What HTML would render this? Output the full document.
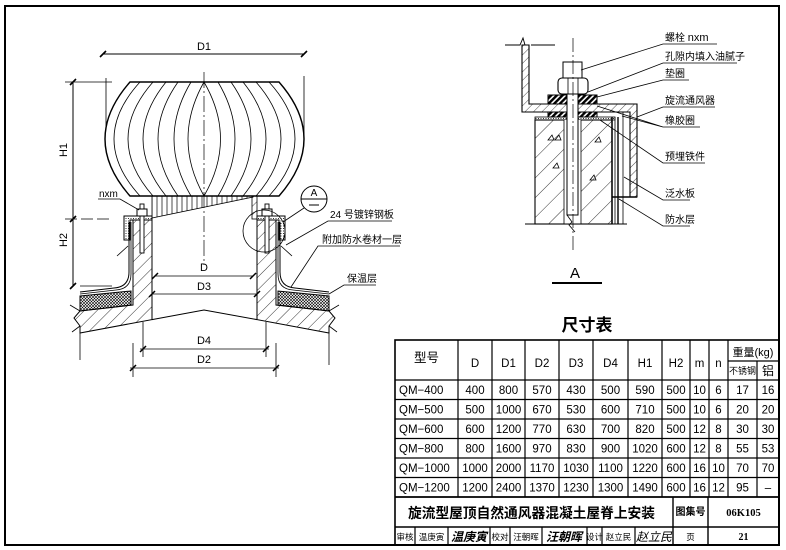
<!DOCTYPE html>
<html><head><meta charset="utf-8">
<style>
html,body{margin:0;padding:0;background:#fff;}
svg{display:block;}
text{font-family:"Liberation Sans","Noto Sans CJK SC",sans-serif;fill:#000;}
.c{text-anchor:middle;}
.b{font-weight:bold;}
</style></head><body>
<svg width="786" height="550" viewBox="0 0 786 550" xmlns="http://www.w3.org/2000/svg">
<defs>
 <pattern id="h45" width="9" height="9" patternUnits="userSpaceOnUse" patternTransform="rotate(45)"><line x1="0" y1="0" x2="0" y2="9" stroke="#000" stroke-width="0.8"/></pattern>
 <pattern id="h45s" width="6" height="6" patternUnits="userSpaceOnUse" patternTransform="rotate(45)"><line x1="0" y1="0" x2="0" y2="6" stroke="#000" stroke-width="0.7"/></pattern>
 <pattern id="h45b" width="14" height="14" patternUnits="userSpaceOnUse" patternTransform="rotate(45)"><line x1="0" y1="0" x2="0" y2="14" stroke="#000" stroke-width="0.8"/></pattern>
 <pattern id="xh" width="3" height="3" patternUnits="userSpaceOnUse"><path d="M0 0L3 3M3 0L0 3" stroke="#000" stroke-width="0.6"/></pattern>
 <pattern id="dots" width="2.5" height="2.5" patternUnits="userSpaceOnUse"><circle cx="1" cy="1" r="0.55" fill="#000"/></pattern>
 <pattern id="vl" width="5" height="10" patternUnits="userSpaceOnUse"><line x1="2" y1="0" x2="2" y2="10" stroke="#000" stroke-width="0.7"/></pattern>
 <pattern id="dk" width="4" height="4" patternUnits="userSpaceOnUse" patternTransform="rotate(45)"><rect width="2.4" height="4" fill="#000"/></pattern>
</defs>

<!-- frame -->
<rect x="5" y="6" width="774" height="539" fill="none" stroke="#000" stroke-width="2"/>

<!-- ================= LEFT DRAWING ================= -->
<g stroke="#000" fill="none" stroke-width="1">
 <!-- D1 -->
 <line x1="103" y1="54" x2="304" y2="54"/>
 <path d="M100,57 L106,51 M301,57 L307,51" stroke-width="1.6"/>
 <line x1="106" y1="78" x2="106" y2="138" stroke-width="0.8"/>
 <line x1="304" y1="76" x2="304" y2="138" stroke-width="0.8"/>
 <!-- H1 / H2 -->
 <line x1="65" y1="82" x2="112" y2="82" stroke-width="0.8"/>
 <line x1="65" y1="219" x2="112" y2="219" stroke-dasharray="12 4" stroke-width="0.8"/>
 <line x1="73" y1="82" x2="73" y2="286"/>
 <path d="M70,85 L76,79 M70,222 L76,216 M70,289 L76,283" stroke-width="1.6"/>

 <!-- dome -->
 <path d="M130,82 L279,82 Q329,139 279,196 L130,196 Q80,139 130,82 Z" stroke-width="1.4" fill="#fff"/>
 <g stroke-width="0.8">
  <path d="M140,82 Q88,139 140,196"/>
  <path d="M153,82 Q103,139 153,196"/>
  <path d="M166,82 Q120,139 166,196"/>
  <path d="M178,82 Q138,139 178,196"/>
  <path d="M191,82 Q157,139 191,196"/>
  <path d="M204,82 Q172,139 204,196"/>
  <path d="M204,82 Q237,139 204,196"/>
  <path d="M218,82 Q252,139 218,196"/>
  <path d="M231,82 Q271,139 231,196"/>
  <path d="M243,82 Q289,139 243,196"/>
  <path d="M256,82 Q306,139 256,196"/>
  <path d="M269,82 Q321,139 269,196"/>
 </g>

 <!-- throat -->
 <path d="M152,196 L253,196 L253,197 L152,218 Z" fill="url(#vl)" stroke-width="0.8"/>
 <rect x="252" y="196" width="5" height="23" fill="url(#h45s)" stroke-width="0.8"/>

 <!-- left concrete -->
 <path d="M133,220 L152,220 L152,319.6 L80,333 L80,326 L74,318 L80,311 L133,305 Z" fill="url(#h45)" stroke-width="1"/>
 <!-- right concrete -->
 <path d="M276,220 L257,220 L257,319.6 L329,333 L329,326 L335,318 L329,311 L276,305 Z" fill="url(#h45)" stroke-width="1"/>
 <!-- break lines -->
 <path d="M70,305 L80,311 M72,332 L80,326" stroke-width="0.8"/>
 <path d="M339,305 L329,311 M337,332 L329,326" stroke-width="0.8"/>
 <!-- ridge underside -->
 <path d="M152,319.6 L204,310 L257,319.6" stroke-width="1"/>

 <!-- insulation -->
 <path d="M80,296 L131,291 L131,305 L80,311 Z" fill="url(#xh)" stroke-width="1"/>
 <path d="M329,296 L278,291 L278,305 L329,311 Z" fill="url(#xh)" stroke-width="1"/>
 <!-- membranes -->
 <path d="M80,292 L114,288 Q129,287 129,272 L129,222" stroke-width="1"/>
 <path d="M80,294 L116,290 Q131,289 131,274 L131,222" stroke-width="0.8"/>
 <path d="M80,286 L112,286" stroke-width="0.8"/>
 <path d="M329,292 L295,288 Q280,287 280,272 L280,222" stroke-width="1"/>
 <path d="M329,294 L293,290 Q278,289 278,274 L278,222" stroke-width="0.8"/>

 <!-- caps -->
 <path d="M124,216 L152,216 L152,220 L130,220 L130,240 L124,240 Z" fill="url(#dots)" stroke-width="1"/>
 <path d="M285,216 L257,216 L257,220 L279,220 L279,240 L285,240 Z" fill="url(#dots)" stroke-width="1"/>
 <path d="M117,256 L128,246" stroke-width="0.8"/>
 <path d="M292,256 L281,246" stroke-width="0.8"/>

 <!-- bolts -->
 <rect x="140" y="204" width="4" height="49" fill="#fff" stroke-width="0.9"/>
 <rect x="137" y="209" width="10" height="7" fill="#fff" stroke-width="1"/>
 <rect x="265" y="204" width="4" height="49" fill="#fff" stroke-width="0.9"/>
 <rect x="262" y="209" width="10" height="7" fill="#fff" stroke-width="1"/>

 <!-- centerline -->
 <line x1="204" y1="72" x2="204" y2="265" stroke-dasharray="16 3 2 3" stroke-width="0.7"/>

 <!-- D / D3 -->
 <line x1="155" y1="276" x2="253" y2="276" stroke-width="0.8"/>
 <path d="M152,279 L158,273 M250,279 L256,273" stroke-width="1.5"/>
 <line x1="152" y1="294" x2="257" y2="294" stroke-width="0.8"/>
 <path d="M149,297 L155,291 M254,297 L260,291" stroke-width="1.5"/>
 <!-- D4 / D2 -->
 <line x1="143" y1="322" x2="143" y2="357" stroke-width="0.8"/>
 <line x1="266" y1="322" x2="266" y2="357" stroke-width="0.8"/>
 <line x1="133" y1="343" x2="133" y2="377" stroke-width="0.8"/>
 <line x1="276" y1="343" x2="276" y2="377" stroke-width="0.8"/>
 <line x1="80" y1="333" x2="80" y2="360" stroke-width="0.8"/>
 <line x1="329" y1="333" x2="329" y2="365" stroke-width="0.8"/>
 <line x1="140" y1="349" x2="269" y2="349" stroke-width="0.8"/>
 <path d="M140,352 L146,346 M263,352 L269,346" stroke-width="1.5"/>
 <line x1="130" y1="368" x2="279" y2="368" stroke-width="0.8"/>
 <path d="M130,371 L136,365 M273,371 L279,365" stroke-width="1.5"/>

 <!-- detail markers -->
 <circle cx="264" cy="231" r="21" stroke-width="0.8"/>
 <circle cx="314" cy="199" r="13" stroke-width="1"/>
 <line x1="301" y1="199" x2="327" y2="199" stroke-width="1"/>
 <line x1="309" y1="205" x2="319" y2="205" stroke-width="1"/>
 <line x1="304" y1="208" x2="283" y2="222" stroke-width="0.8"/>

 <!-- leaders -->
 <path d="M98,199 L120,199 L139,210" stroke-width="0.8"/>
 <path d="M392,221 L328,221 L286,245" stroke-width="0.8"/>
 <path d="M400,246 L318,246 L291,287" stroke-width="0.8"/>
 <path d="M376,285 L344,285 L329,294" stroke-width="0.8"/>
</g>

<g font-size="11">
 <text x="204" y="50" class="c">D1</text>
 <text transform="translate(67,150) rotate(-90)" class="c">H1</text>
 <text transform="translate(67,240) rotate(-90)" class="c">H2</text>
 <text x="99" y="197" font-size="10">nxm</text>
 <text x="314" y="196" class="c" font-size="10">A</text>
 <text x="204" y="271" class="c">D</text>
 <text x="204" y="290" class="c">D3</text>
 <text x="204" y="344" class="c">D4</text>
 <text x="204" y="363" class="c">D2</text>
 <text x="330" y="218" font-size="10">24 号镀锌钢板</text>
 <text x="322" y="243" font-size="10">附加防水卷材一层</text>
 <text x="347" y="282" font-size="10">保温层</text>
</g>

<!-- ================= DETAIL A ================= -->
<g stroke="#000" fill="none" stroke-width="1">
 <path d="M505,45 L520,45 L523,38 L525,45 M531,45 L555,45" stroke-width="0.9"/>
 <path d="M522,45 L529,45 L529,104 L637,104 L637,197 L630,197 L630,112 L522,112 Z" fill="url(#h45s)" stroke-width="1.1"/>
 <rect x="535" y="120" width="77" height="104" fill="url(#h45b)" stroke-width="1.1"/>
 <rect x="535" y="117" width="80" height="3" fill="url(#dots)" stroke-width="0.8"/>
 <rect x="548" y="95" width="49" height="9" fill="url(#dk)" stroke-width="1"/>
 <rect x="548" y="112" width="49" height="5" fill="url(#dk)" stroke-width="1"/>
 <path d="M548,140 l4,-5 l2,5 z M555,140 l4,-5 l2,5 z M553,168 l4,-5 l2,5 z M595,142 l4,-5 l2,5 z M590,180 l4,-5 l2,5 z" stroke-width="0.8"/>
 <rect x="564" y="120" width="17" height="104" fill="#fff" stroke="none"/>
 <line x1="564" y1="120" x2="564" y2="224" stroke-width="0.8"/>
 <line x1="581" y1="120" x2="581" y2="224" stroke-width="0.8"/>
 <rect x="567" y="68" width="11" height="147" fill="#fff" stroke-width="1"/>
 <path d="M567,215 L572,222 L569,225 L575,232" stroke-width="0.8"/>
 <rect x="563" y="62" width="19" height="16" fill="#fff" stroke-width="1"/>
 <rect x="558" y="78" width="30" height="16" rx="4" fill="#fff" stroke-width="1.1"/>
 <line x1="568" y1="78" x2="568" y2="94" stroke-width="0.8"/>
 <line x1="578" y1="78" x2="578" y2="94" stroke-width="0.8"/>
 <line x1="573" y1="38" x2="573" y2="253" stroke-dasharray="14 3 2 3" stroke-width="0.7"/>
 <line x1="612" y1="117" x2="612" y2="224" stroke-width="1.5"/>
 <line x1="615" y1="117" x2="615" y2="224" stroke-width="0.8"/>
 <line x1="618" y1="117" x2="618" y2="224" stroke-width="1.4"/>
 <line x1="623" y1="112" x2="623" y2="224" stroke-width="0.8"/>
 <line x1="612" y1="197" x2="637" y2="197" stroke-width="1.5"/>
 <line x1="525" y1="224" x2="627" y2="224" stroke-width="1"/>
 <!-- leaders -->
 <path d="M717,44 L663,44 L581,70" stroke-width="0.8"/>
 <path d="M737,63 L663,63 L588,92" stroke-width="0.8"/>
 <path d="M689,80 L663,80 L597,97" stroke-width="0.8"/>
 <path d="M715,107 L663,107 L637,117" stroke-width="0.8"/>
 <path d="M700,127 L663,127 L597,106 M663,127 L622,116" stroke-width="0.8"/>
 <path d="M705,163 L663,163 L600,120" stroke-width="0.8"/>
 <path d="M690,200 L663,200 L624,177" stroke-width="0.8"/>
 <path d="M690,226 L663,226 L619,199" stroke-width="0.8"/>
</g>
<rect x="552" y="282" width="50" height="2" fill="#000"/>
<g font-size="10">
 <text x="665" y="41">螺栓 <tspan font-size="11">nxm</tspan></text>
 <text x="665" y="60">孔隙内填入油腻子</text>
 <text x="665" y="77">垫圈</text>
 <text x="665" y="104">旋流通风器</text>
 <text x="665" y="124">橡胶圈</text>
 <text x="665" y="160">预埋铁件</text>
 <text x="665" y="197">泛水板</text>
 <text x="665" y="223">防水层</text>
 <text x="575" y="278" class="c" font-size="15">A</text>
</g>

<!-- ================= TABLE ================= -->
<text x="587" y="331" class="c b" font-size="17">尺寸表</text>
<g stroke="#000" stroke-width="1.2" fill="none">
 <rect x="395" y="340" width="384" height="205" stroke-width="1.6"/>
 <line x1="395" y1="380" x2="779" y2="380"/>
 <line x1="728" y1="361" x2="779" y2="361"/>
 <line x1="395" y1="399.5" x2="779" y2="399.5"/>
 <line x1="395" y1="419" x2="779" y2="419"/>
 <line x1="395" y1="438.5" x2="779" y2="438.5"/>
 <line x1="395" y1="458" x2="779" y2="458"/>
 <line x1="395" y1="477.5" x2="779" y2="477.5"/>
 <line x1="395" y1="497" x2="779" y2="497" stroke-width="1.8"/>
 <line x1="395" y1="527" x2="779" y2="527" stroke-width="1.4"/>
 <line x1="458" y1="340" x2="458" y2="497"/>
 <line x1="492" y1="340" x2="492" y2="497"/>
 <line x1="525" y1="340" x2="525" y2="497"/>
 <line x1="559" y1="340" x2="559" y2="497"/>
 <line x1="593" y1="340" x2="593" y2="497"/>
 <line x1="628" y1="340" x2="628" y2="497"/>
 <line x1="662" y1="340" x2="662" y2="497"/>
 <line x1="690" y1="340" x2="690" y2="497"/>
 <line x1="709" y1="340" x2="709" y2="497"/>
 <line x1="728" y1="340" x2="728" y2="497"/>
 <line x1="757" y1="361" x2="757" y2="497"/>
 <line x1="673" y1="497" x2="673" y2="545" stroke-width="1.4"/>
 <line x1="708" y1="497" x2="708" y2="545" stroke-width="1.4"/>
 <line x1="415" y1="527" x2="415" y2="545"/>
 <line x1="448" y1="527" x2="448" y2="545"/>
 <line x1="490" y1="527" x2="490" y2="545"/>
 <line x1="510" y1="527" x2="510" y2="545"/>
 <line x1="542" y1="527" x2="542" y2="545"/>
 <line x1="587" y1="527" x2="587" y2="545"/>
 <line x1="602" y1="527" x2="602" y2="545"/>
 <line x1="635" y1="527" x2="635" y2="545"/>
</g>

<g font-size="11.5" class="c" text-anchor="middle">
 <text x="426.5" y="362" font-size="12.5">型号</text>
 <text x="475" y="367">D</text>
 <text x="508.5" y="367">D1</text>
 <text x="542" y="367">D2</text>
 <text x="576" y="367">D3</text>
 <text x="610.5" y="367">D4</text>
 <text x="645" y="367">H1</text>
 <text x="676" y="367">H2</text>
 <text x="699.5" y="367">m</text>
 <text x="718.5" y="367">n</text>
 <text x="753" y="356" font-size="11">重量<tspan font-size="11">(kg)</tspan></text>
 <text x="742.5" y="374" font-size="9">不锈钢</text>
 <text x="768" y="375" font-size="12">铝</text>
</g>

<g font-size="11.5" text-anchor="middle">
 <text x="399" y="394" text-anchor="start">QM−400</text>
 <text x="475" y="394">400</text><text x="508.5" y="394">800</text><text x="542" y="394">570</text><text x="576" y="394">430</text><text x="610.5" y="394">500</text><text x="645" y="394">590</text><text x="676" y="394">500</text><text x="699.5" y="394">10</text><text x="718.5" y="394">6</text><text x="742.5" y="394">17</text><text x="768" y="394">16</text>

 <text x="399" y="413.5" text-anchor="start">QM−500</text>
 <text x="475" y="413.5">500</text><text x="508.5" y="413.5">1000</text><text x="542" y="413.5">670</text><text x="576" y="413.5">530</text><text x="610.5" y="413.5">600</text><text x="645" y="413.5">710</text><text x="676" y="413.5">500</text><text x="699.5" y="413.5">10</text><text x="718.5" y="413.5">6</text><text x="742.5" y="413.5">20</text><text x="768" y="413.5">20</text>

 <text x="399" y="433" text-anchor="start">QM−600</text>
 <text x="475" y="433">600</text><text x="508.5" y="433">1200</text><text x="542" y="433">770</text><text x="576" y="433">630</text><text x="610.5" y="433">700</text><text x="645" y="433">820</text><text x="676" y="433">500</text><text x="699.5" y="433">12</text><text x="718.5" y="433">8</text><text x="742.5" y="433">30</text><text x="768" y="433">30</text>

 <text x="399" y="452.5" text-anchor="start">QM−800</text>
 <text x="475" y="452.5">800</text><text x="508.5" y="452.5">1600</text><text x="542" y="452.5">970</text><text x="576" y="452.5">830</text><text x="610.5" y="452.5">900</text><text x="645" y="452.5">1020</text><text x="676" y="452.5">600</text><text x="699.5" y="452.5">12</text><text x="718.5" y="452.5">8</text><text x="742.5" y="452.5">55</text><text x="768" y="452.5">53</text>

 <text x="399" y="472" text-anchor="start">QM−1000</text>
 <text x="475" y="472">1000</text><text x="508.5" y="472">2000</text><text x="542" y="472">1170</text><text x="576" y="472">1030</text><text x="610.5" y="472">1100</text><text x="645" y="472">1220</text><text x="676" y="472">600</text><text x="699.5" y="472">16</text><text x="718.5" y="472">10</text><text x="742.5" y="472">70</text><text x="768" y="472">70</text>

 <text x="399" y="491.5" text-anchor="start">QM−1200</text>
 <text x="475" y="491.5">1200</text><text x="508.5" y="491.5">2400</text><text x="542" y="491.5">1370</text><text x="576" y="491.5">1230</text><text x="610.5" y="491.5">1300</text><text x="645" y="491.5">1490</text><text x="676" y="491.5">600</text><text x="699.5" y="491.5">16</text><text x="718.5" y="491.5">12</text><text x="742.5" y="491.5">95</text><text x="768" y="491.5">–</text>
</g>

<!-- title block -->
<text x="408" y="518" font-size="14" class="b" textLength="247" lengthAdjust="spacingAndGlyphs">旋流型屋顶自然通风器混凝土屋脊上安装</text>
<text x="690.5" y="515" font-size="10" class="b" text-anchor="middle">图集号</text>
<text x="743.5" y="516" font-size="10.5" class="b" text-anchor="middle" style="font-family:'Liberation Serif',serif">06K105</text>
<g font-size="8.5" text-anchor="middle">
 <text x="405" y="540">审核</text>
 <text x="431.5" y="540">温庚寅</text>
 <text x="469" y="541" font-size="12" font-style="italic" font-weight="bold">温庚寅</text>
 <text x="500" y="540">校对</text>
 <text x="526" y="540">汪朝晖</text>
 <text x="564" y="541" font-size="12" font-style="italic" font-weight="bold">汪朝晖</text>
 <text x="594.5" y="540">设计</text>
 <text x="618.5" y="540">赵立民</text>
 <text x="654" y="541" font-size="12" font-style="italic">赵立民</text>
 <text x="690.5" y="540">页</text>
 <text x="743.5" y="540" font-size="10" font-weight="bold" style="font-family:'Liberation Serif',serif">21</text>
</g>
</svg>
</body></html>
